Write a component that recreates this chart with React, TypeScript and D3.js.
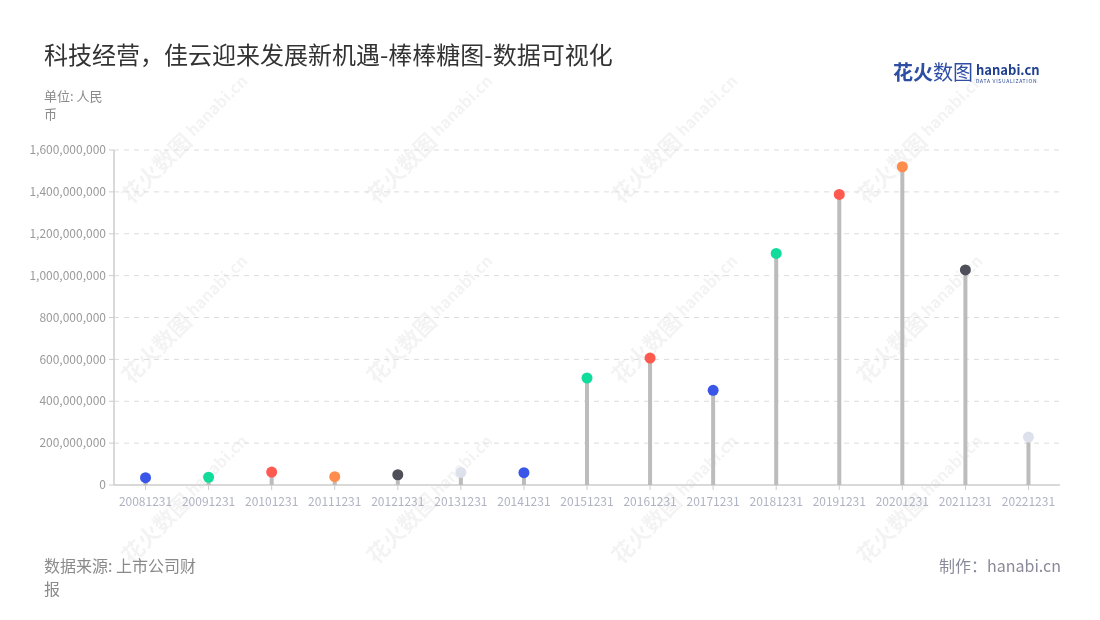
import React from "react";
import * as d3 from "d3";

const categories = ["20081231","20091231","20101231","20111231","20121231","20131231","20141231","20151231","20161231","20171231","20181231","20191231","20201231","20211231","20221231"];
const values = [35e6, 37e6, 62e6, 40e6, 49e6, 60e6, 59e6, 511e6, 606e6, 452e6, 1106e6, 1388e6, 1520e6, 1027e6, 229e6];
const dotColors = ["#3a56e8","#12dc9c","#ff5a50","#ff8c4d","#4f4f5a","#dde1ec","#3a56e8","#12dc9c","#ff5a50","#3a56e8","#12dc9c","#ff5a50","#ff8c4d","#4f4f5a","#dde1ec"];
const yTicks = [0, 200e6, 400e6, 600e6, 800e6, 1000e6, 1200e6, 1400e6, 1600e6];

const titleText = "科技经营，佳云迎来发展新机遇-棒棒糖图-数据可视化";
const unitLines = ["单位: 人民", "币"];
const sourceLines = ["数据来源: 上市公司财", "报"];
const makerText = "制作：hanabi.cn";

const W = 1100, H = 620;
const left = 114, right = 1060, top = 150, bottom = 485;
const FONT = "'Noto Sans CJK SC', 'Noto Sans', sans-serif";

export default function App() {
  const x = d3.scaleBand<string>().domain(categories).range([left, right]).padding(0);
  const y = d3.scaleLinear().domain([0, 1600e6]).range([bottom, top]);
  const fmt = d3.format(",");
  const wmX = [175, 420, 665, 910];
  const wmY = [150, 330, 510];

  return (
    <svg width={W} height={H} style={{ display: "block", position: "absolute", left: 0, top: 0 }} fontFamily={FONT}>
      <rect width={W} height={H} fill="#fff" />
      {/* watermarks */}
      <g opacity={0.05} fill="#000">
        {wmY.map((wy) => wmX.map((wx) => (
          <g key={wx + "-" + wy} transform={`translate(${wx},${wy}) rotate(-45)`}>
            <text x={-70} y={8} fontSize={22} fontWeight={700}>花火数图</text>
            <text x={22} y={4} fontSize={16} fontWeight={700}>hanabi.cn</text>
          </g>
        )))}
      </g>

      {/* title */}
      <text x={44} y={64} fontSize={24} fill="#333">{titleText}</text>
      {unitLines.map((t, i) => (
        <text key={t} x={44} y={101 + i * 18} fontSize={13} fill="#8a8a8a">{t}</text>
      ))}

      {/* logo */}
      <text x={893} y={80} fontSize={20} fontWeight={700} fill="#2d4ea3">花火</text>
      <text x={933} y={80} fontSize={20} fill="#2d4ea3">数图</text>
      <text x={976} y={75} fontSize={13} fontWeight={700} fill="#1f3f8f">hanabi.cn</text>
      <text x={976} y={83} fontSize={5} fill="#1f3f8f" letterSpacing={0.7}>DATA VISUALIZATION</text>

      {/* grid */}
      {yTicks.map((t) => (
        <g key={t}>
          {t > 0 && <line x1={left} x2={right} y1={y(t)} y2={y(t)} stroke="#dcdcdc" strokeDasharray="5,5" />}
          <line x1={left - 5} x2={left} y1={y(t)} y2={y(t)} stroke="#ccc" />
          <text x={left - 8} y={y(t)} dy="0.35em" textAnchor="end" fontSize={12} fill="#9a9a9a">{fmt(t)}</text>
        </g>
      ))}
      <line x1={left} x2={left} y1={top} y2={bottom} stroke="#cccccc" strokeWidth={1.5} />
      <line x1={left} x2={right} y1={bottom} y2={bottom} stroke="#cccccc" strokeWidth={1.5} />

      {/* x ticks and labels */}
      {categories.map((c) => {
        const cx = (x(c) as number) + x.bandwidth() / 2;
        return (
          <g key={c}>
            <line x1={cx} x2={cx} y1={bottom} y2={bottom + 5} stroke="#ccc" />
            <text x={cx} y={506} textAnchor="middle" fontSize={12} fill="#b0b3c2">{c}</text>
          </g>
        );
      })}

      {/* lollipops */}
      {categories.map((c, i) => {
        const cx = (x(c) as number) + x.bandwidth() / 2;
        return (
          <g key={c}>
            <line x1={cx} x2={cx} y1={bottom} y2={y(values[i])} stroke="#bcbcbc" strokeWidth={4} />
            <circle cx={cx} cy={y(values[i])} r={5.5} fill={dotColors[i]} />
          </g>
        );
      })}

      {/* footer */}
      {sourceLines.map((t, i) => (
        <text key={t} x={44} y={572 + i * 23} fontSize={16} fill="#8a8a8a">{t}</text>
      ))}
      <text x={1061} y={572} textAnchor="end" fontSize={16} fill="#8a8a9a">{makerText}</text>
    </svg>
  );
}
